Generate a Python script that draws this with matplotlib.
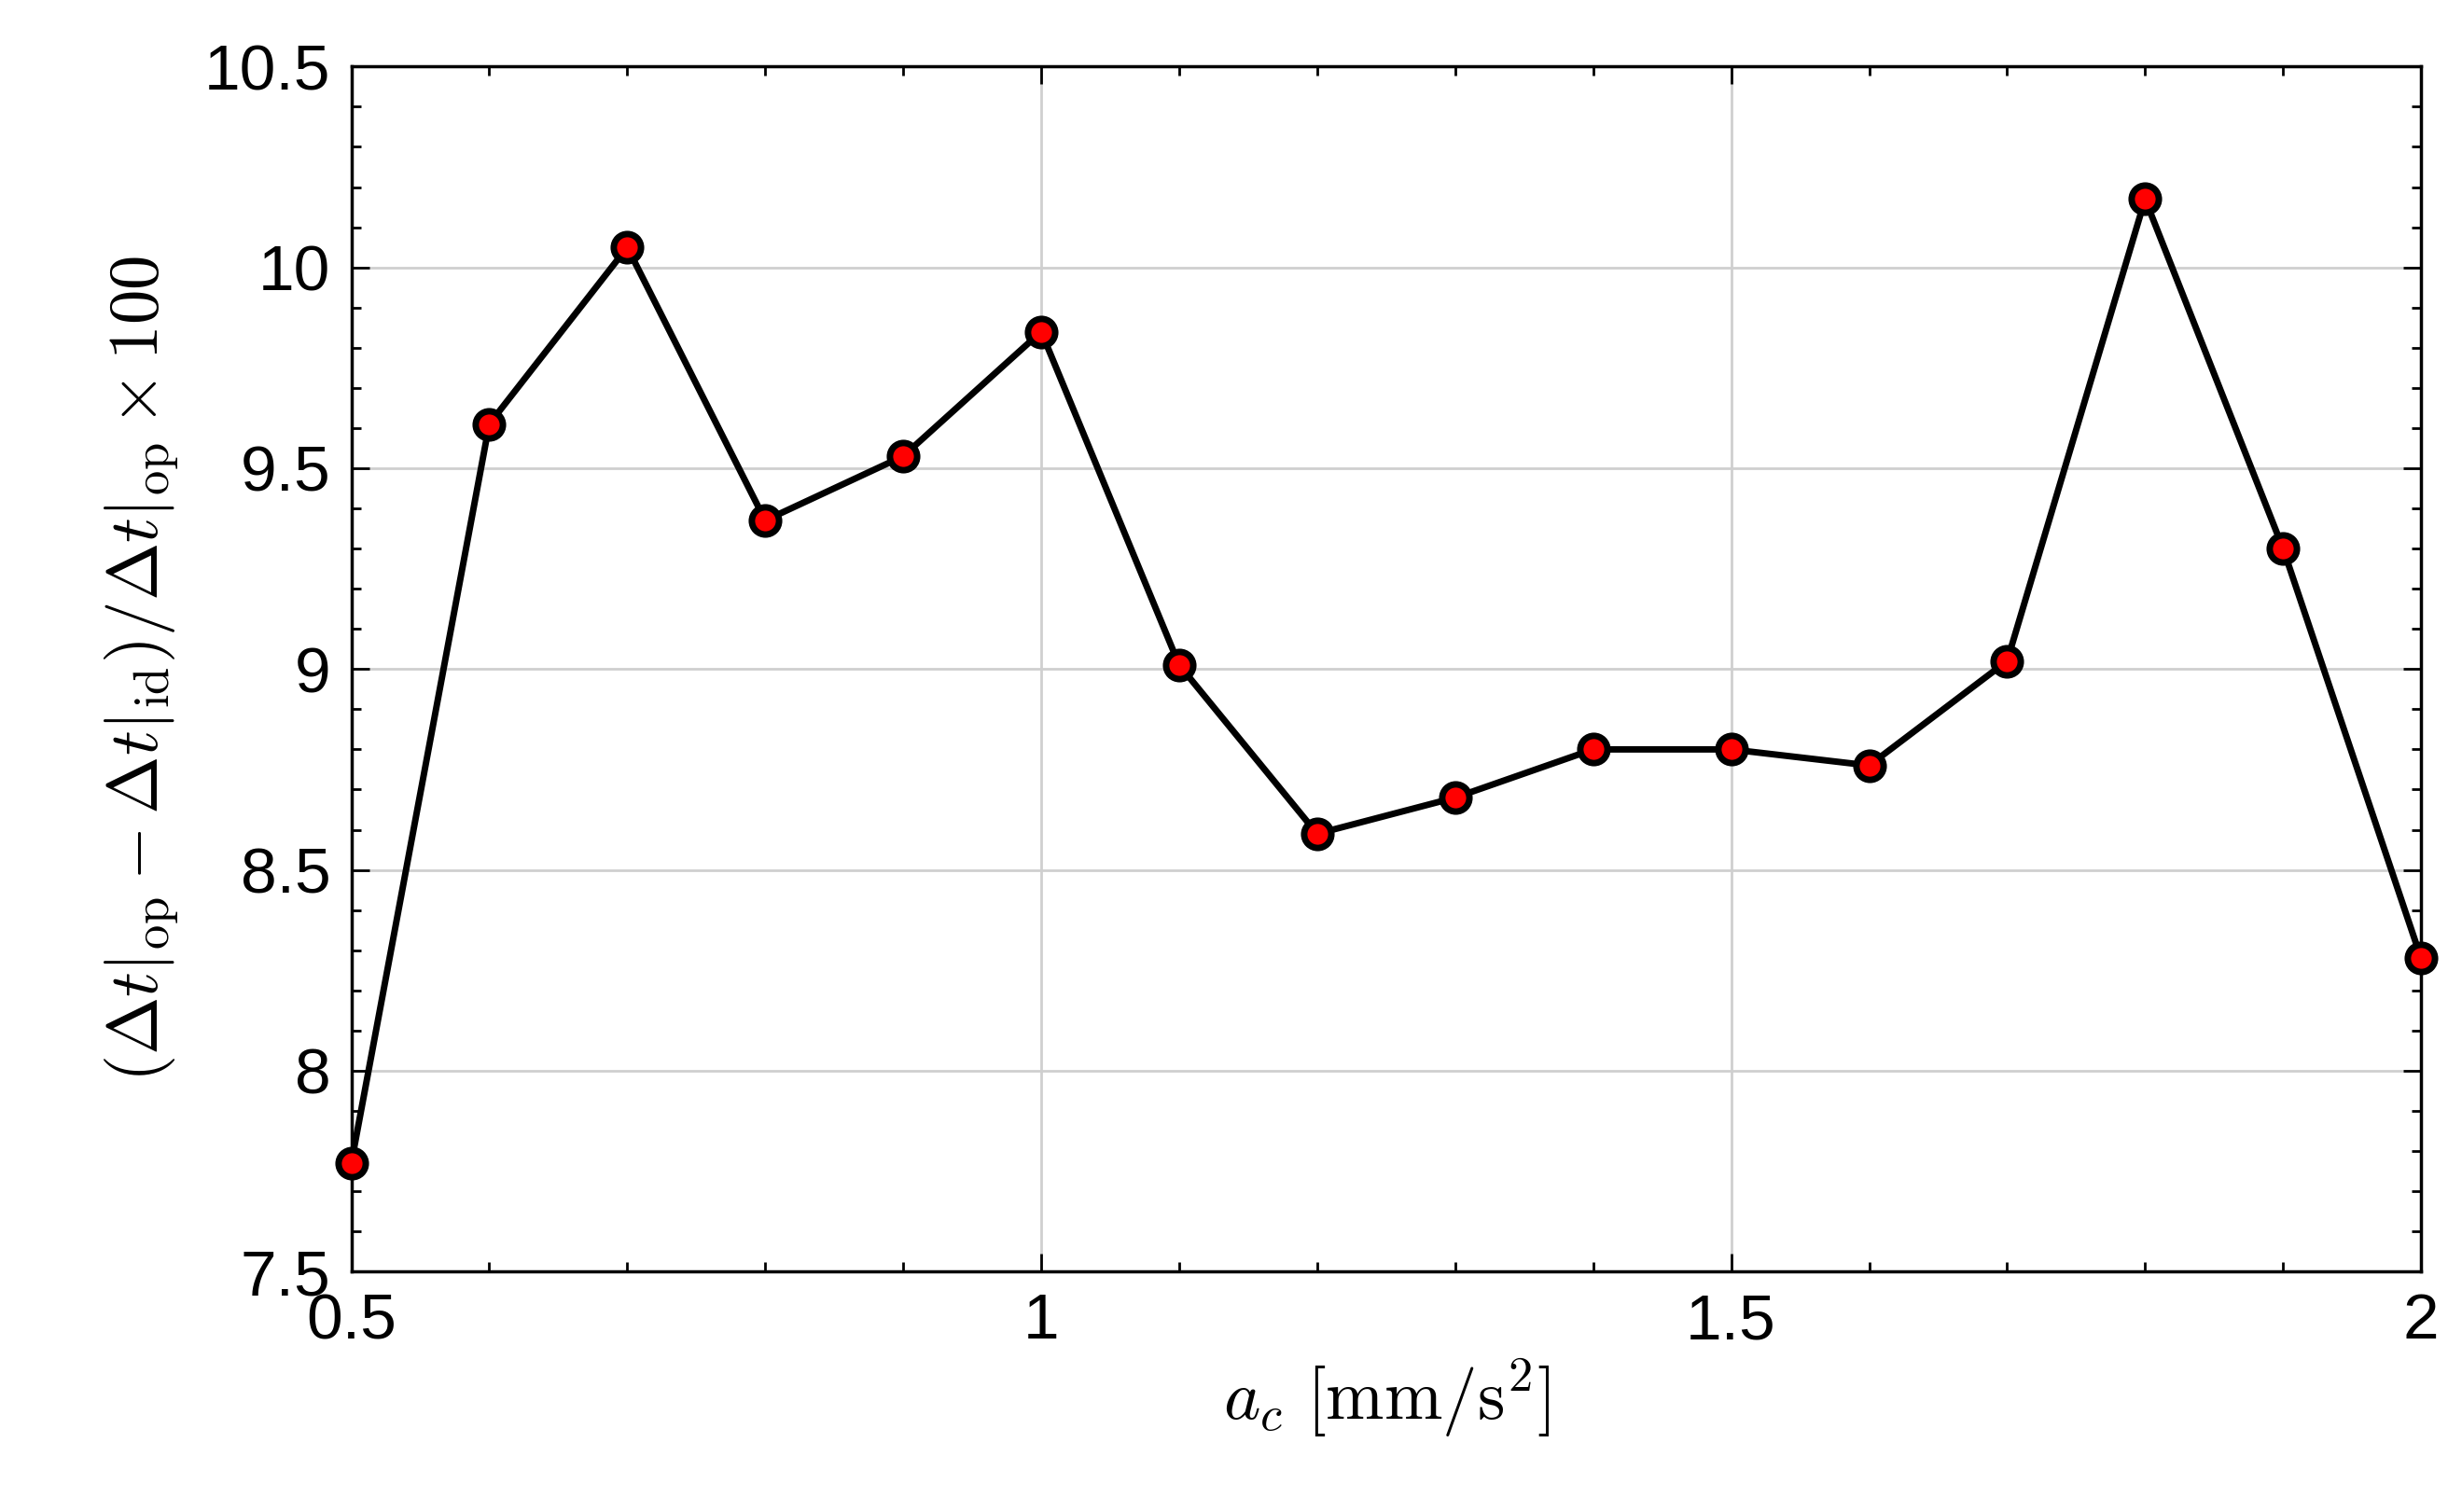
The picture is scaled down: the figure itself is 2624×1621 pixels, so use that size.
import matplotlib.pyplot as plt
from matplotlib.ticker import MultipleLocator

plt.rcParams['mathtext.fontset'] = 'cm'
plt.rcParams['font.family'] = ['Liberation Sans', 'DejaVu Sans']

# acceleration values and relative time difference
a_c = [0.5, 0.6, 0.7, 0.8, 0.9, 1.0, 1.1, 1.2, 1.3, 1.4, 1.5, 1.6, 1.7, 1.8, 1.9, 2.0]
rel_diff = [7.77, 9.61, 10.05, 9.37, 9.53, 9.84, 9.01, 8.59, 8.68, 8.80, 8.80, 8.76, 9.02, 10.17, 9.30, 8.28]

fig = plt.figure(figsize=(26.24, 16.21), dpi=100)
ax = fig.add_axes([0.1435, 0.159, 0.8455, 0.797])

ax.plot(a_c, rel_diff, color='black', lw=5, marker='o', markersize=21,
        markerfacecolor='red', markeredgecolor='black', markeredgewidth=5,
        clip_on=False, zorder=3)

ax.set_xlim(0.5, 2)
ax.set_ylim(7.5, 10.5)
ax.xaxis.set_minor_locator(MultipleLocator(0.1))
ax.yaxis.set_minor_locator(MultipleLocator(0.1))
ax.set_xticks([0.5, 1, 1.5, 2], ['0.5', '1', '1.5', '2'])
ax.set_yticks([7.5, 8, 8.5, 9, 9.5, 10, 10.5], ['7.5', '8', '8.5', '9', '9.5', '10', '10.5'])

ax.grid(True, which='major', color='#cfcfcf', lw=2)
ax.tick_params(which='both', direction='in', top=True, right=True, width=2)
ax.tick_params(which='major', length=14, labelsize=50, pad=16)
ax.tick_params(which='minor', length=7)
for s in ax.spines.values():
    s.set_linewidth(2.5)

ax.set_xlabel(r'$a_c\ [\mathrm{mm/s^2}]$', fontsize=54, labelpad=4)
ax.set_ylabel(r'$(\Delta t|_{\mathrm{op}} - \Delta t|_{\mathrm{id}})/\Delta t|_{\mathrm{op}} \times 100$',
              fontsize=54, labelpad=18)

fig.savefig('out.png')
